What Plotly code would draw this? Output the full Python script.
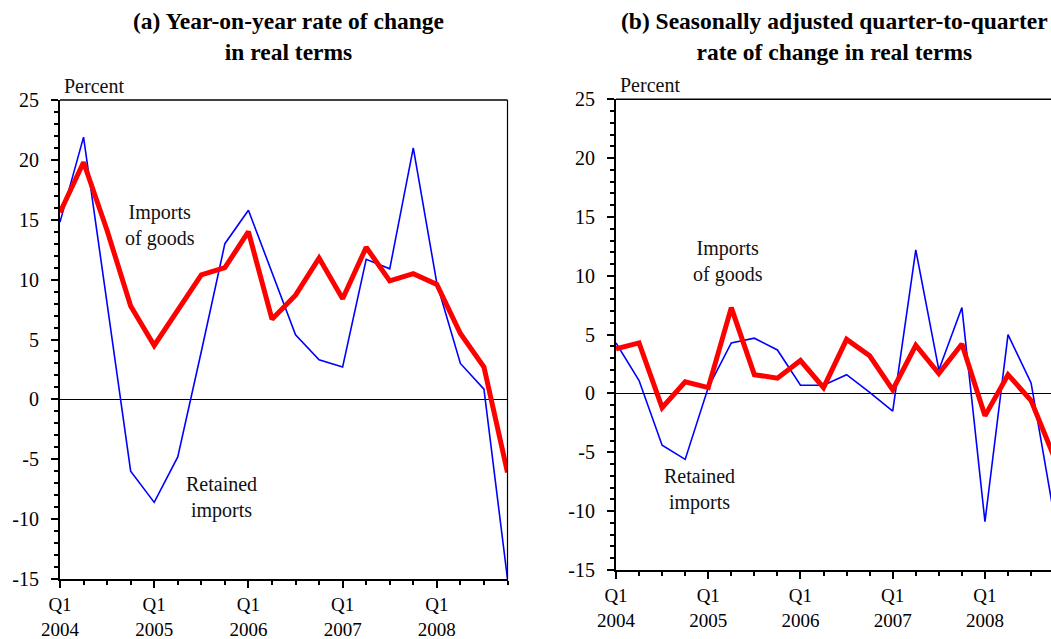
import plotly.graph_objects as go

# Quarterly index positions, Q1 2004 .. Q4 2008
quarters = list(range(20))
year_ticks = [0, 4, 8, 12, 16]
year_labels = ["Q1<br>2004", "Q1<br>2005", "Q1<br>2006", "Q1<br>2007", "Q1<br>2008"]
y_ticks = [-15, -10, -5, 0, 5, 10, 15, 20, 25]
y_labels = ["-15", "-10", "-5", "0", "5", "10", "15", "20", "25"]

# (a) Year-on-year rate of change in real terms (percent)
goods_yoy = [15.6, 19.8, 14.1, 7.8, 4.5, 7.5, 10.4, 11.0, 14.0, 6.7,
             8.7, 11.8, 8.4, 12.7, 9.9, 10.5, 9.6, 5.5, 2.7, -6.1]
retained_yoy = [14.8, 21.9, 8.0, -6.0, -8.6, -4.8, 4.0, 13.0, 15.8, 10.6,
                5.4, 3.3, 2.7, 11.7, 10.9, 21.0, 9.7, 3.0, 0.85, -15.0]

# (b) Seasonally adjusted quarter-to-quarter rate of change (percent)
goods_qoq = [3.8, 4.3, -1.2, 1.0, 0.5, 7.3, 1.6, 1.3, 2.8, 0.5,
             4.6, 3.2, 0.3, 4.1, 1.7, 4.2, -1.9, 1.6, -0.6, -5.4]
retained_qoq = [4.3, 1.1, -4.4, -5.6, 0.5, 4.3, 4.7, 3.7, 0.7, 0.7,
                1.6, 0.1, -1.5, 12.2, 2.0, 7.3, -10.9, 5.0, 0.9, -10.4]

FONT = "Liberation Serif"
RED = "#ff0000"
BLUE = "#0000ff"

W, H = 1051, 639
fig = go.Figure()

# panel geometry in pixels
A_LEFT, A_RIGHT, A_TOP, A_BOTTOM = 60, 507.5, 100, 579
B_LEFT, B_TOP, B_BOTTOM = 616, 99.3, 570
B_STEP = 23.06
b_xmax = (W - B_LEFT) / B_STEP

def px(x):
    return x / W

def py(y):
    return 1 - y / H

for xa, ya, ret, gds in [("x", "y", retained_yoy, goods_yoy),
                         ("x2", "y2", retained_qoq, goods_qoq)]:
    fig.add_trace(go.Scatter(x=quarters, y=ret, xaxis=xa, yaxis=ya, mode="lines",
                             line=dict(color=BLUE, width=1.6), showlegend=False))
    fig.add_trace(go.Scatter(x=quarters, y=gds, xaxis=xa, yaxis=ya, mode="lines",
                             line=dict(color=RED, width=5), showlegend=False))

xcommon = dict(
    tickmode="array", tickvals=year_ticks, ticktext=year_labels,
    ticks="outside", ticklen=7, tickwidth=1.5, tickcolor="black",
    minor=dict(tickmode="array", tickvals=quarters, ticks="outside",
               ticklen=4, tickwidth=1.5, tickcolor="black"),
    showline=True, linecolor="black", linewidth=2,
    showgrid=False, zeroline=False, automargin=False,
    tickfont=dict(family=FONT, size=19, color="black"),
    ticklabelstandoff=0,
)
ycommon = dict(
    range=[-15, 25], tickmode="array", tickvals=y_ticks, ticktext=y_labels,
    ticks="outside", ticklen=7, tickwidth=1.5, tickcolor="black",
    minor=dict(tickmode="linear", tick0=0, dtick=1, ticks="outside",
               ticklen=4, tickwidth=1.5, tickcolor="black"),
    showline=True, linecolor="black", linewidth=2,
    showgrid=False, zeroline=True, zerolinecolor="black", zerolinewidth=1.2,
    automargin=False,
    tickfont=dict(family=FONT, size=20, color="black"),
    ticklabelstandoff=8,
)

fig.update_layout(
    width=W, height=H,
    margin=dict(l=0, r=0, t=0, b=0, autoexpand=False),
    paper_bgcolor="white", plot_bgcolor="white",
    xaxis=dict(xcommon, domain=[px(A_LEFT), px(A_RIGHT)], range=[0, 19], anchor="y"),
    yaxis=dict(ycommon, domain=[py(A_BOTTOM), py(A_TOP)], anchor="x"),
    xaxis2=dict(xcommon, domain=[px(B_LEFT), 1.0], range=[0, b_xmax], anchor="y2"),
    yaxis2=dict(ycommon, domain=[py(B_BOTTOM), py(B_TOP)], anchor="x2"),
    font=dict(family=FONT, color="black"),
)

# frame: top border on both panels, right border on panel (a)
fig.add_shape(type="line", xref="x domain", yref="y domain", x0=0, x1=1, y0=1, y1=1,
              line=dict(color="black", width=1.6))
fig.add_shape(type="line", xref="x domain", yref="y domain", x0=1, x1=1, y0=0, y1=1,
              line=dict(color="black", width=1.2))
fig.add_shape(type="line", xref="x2 domain", yref="y2 domain", x0=0, x1=1, y0=1, y1=1,
              line=dict(color="black", width=1.6))

txt = dict(family=FONT, size=20, color="#111111")

# panel titles
fig.add_annotation(xref="paper", yref="paper", x=px(288), y=py(37),
                   text="<b>(a) Year-on-year rate of change<br>in real terms</b>",
                   showarrow=False, font=dict(family=FONT, size=23.5, color="black"),
                   xanchor="center", yanchor="middle")
fig.add_annotation(xref="paper", yref="paper", x=px(834), y=py(37),
                   text="<b>(b) Seasonally adjusted quarter-to-quarter<br>rate of change in real terms</b>",
                   showarrow=False, font=dict(family=FONT, size=23.5, color="black"),
                   xanchor="center", yanchor="middle")

# unit labels
for xr, yr in [("x domain", "y domain"), ("x2 domain", "y2 domain")]:
    fig.add_annotation(xref=xr, yref=yr, x=0, y=1, xanchor="left", yanchor="bottom",
                       xshift=2, yshift=1, text="Percent", showarrow=False, font=txt)

# series labels
fig.add_annotation(xref="x", yref="y", x=4.26, y=14.5, text="Imports<br>of goods",
                   showarrow=False, font=txt)
fig.add_annotation(xref="x", yref="y", x=6.85, y=-8.2, text="Retained<br>imports",
                   showarrow=False, font=txt)
fig.add_annotation(xref="x2", yref="y2", x=4.86, y=11.2, text="Imports<br>of goods",
                   showarrow=False, font=txt)
fig.add_annotation(xref="x2", yref="y2", x=3.64, y=-8.2, text="Retained<br>imports",
                   showarrow=False, font=txt)

fig.write_html("out.html")
